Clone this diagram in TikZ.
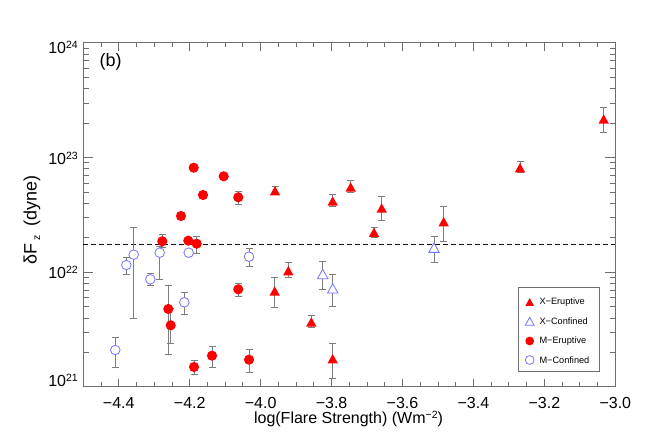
\documentclass[tikz,border=0pt]{standalone}
\usepackage{fontspec}
\setmainfont{Liberation Sans}
\definecolor{mblue}{RGB}{115,115,255}
\definecolor{axgray}{RGB}{110,110,110}
\definecolor{ebgray}{RGB}{125,125,125}
\newcommand\errb[3]{\draw[ebar] (#1,#2) -- (#1,#3) (#1-3.5,#2) -- (#1+3.5,#2) (#1-3.5,#3) -- (#1+3.5,#3);}
\newcommand\trimk[4]{\path[#4] (#1-#3,#2+0.9*#3) -- (#1+#3,#2+0.9*#3) -- (#1,#2-0.9*#3) -- cycle;}
\newcommand\sps[1]{\raisebox{5pt}{\fontsize{10.5}{11}\selectfont #1}}
\begin{document}
\begin{tikzpicture}[x=1pt,y=-1pt,
  frame/.style={draw=axgray,line width=1pt},
  tickln/.style={draw=axgray,line width=0.9pt},
  ebar/.style={draw=ebgray,line width=0.9pt},
  rfill/.style={fill=red},
  bopen/.style={draw=mblue,fill=white,line width=0.8pt},
  ticklab/.style={font=\fontsize{16}{19}\selectfont, inner sep=0pt},
  leglab/.style={font=\fontsize{9.2}{11}\selectfont, inner sep=0pt, anchor=west}]
\useasboundingbox[fill=white] (0,0) rectangle (664,443);
% x ticks
\foreach \i in {1,...,29} {
  \pgfmathsetmacro\xx{83.3+\i*17.7333}
  \draw[tickln] (\xx,387) -- (\xx,382.5) (\xx,43) -- (\xx,47.5);
}
\foreach \i/\lab in {2/−4.4,6/−4.2,10/−4.0,14/−3.8,18/−3.6,22/−3.4,26/−3.2,30/−3.0} {
  \pgfmathsetmacro\xx{83.3+\i*17.7333}
  \draw[tickln] (\xx,387) -- (\xx,379) (\xx,43) -- (\xx,51);
  \node[ticklab,anchor=base] at (\xx,408.5) {\lab};
}
% y ticks
\foreach \d in {0,1,2} \foreach \m in {2,...,9} {
  \pgfmathsetmacro\yy{387-(\d+log10(\m))*114.667}
  \draw[tickln] (83.3,\yy) -- (88.8,\yy) (615.3,\yy) -- (609.8,\yy);
}
\foreach \yy in {272.33,157.67} {
  \draw[tickln] (83.3,\yy) -- (93.3,\yy) (615.3,\yy) -- (605.3,\yy);
}
\node[ticklab,anchor=base east] at (78,387) {10\sps{21}};
\node[ticklab,anchor=base east] at (78,279) {10\sps{22}};
\node[ticklab,anchor=base east] at (78,164.5) {10\sps{23}};
\node[ticklab,anchor=base east] at (78,53.5) {10\sps{24}};
% frame
\draw[frame] (83.3,43) rectangle (615.3,387);
% titles
\node[ticklab,anchor=base] at (348.5,424) {log(Flare Strength) (Wm\sps{−2})};
\node[font=\fontsize{18}{21}\selectfont,inner sep=0pt,rotate=90] at (32,220) {δF\,\raisebox{-3.5pt}{\fontsize{10.5}{11}\selectfont z}\, (dyne)};
\node[font=\fontsize{18}{21}\selectfont,inner sep=0pt,anchor=base west] at (99.5,66.2) {(b)};
% threshold
\draw[black,line width=1.2pt,dash pattern=on 5pt off 3pt] (83.3,244.7) -- (615.3,244.7);
% error bars
\foreach \x/\t/\b in {238.3/191.3/204.3, 162.3/234.7/247.5, 196.7/236/253.3, 168.3/285.3/354.3, 170.7/308/343.7, 238.3/283.3/296, 194/360.3/374.3, 212/346.3/367.3, 249/349.3/372.7,
 133.7/227.7/318.3, 126.3/257.7/274, 159.7/246/279.3, 249/248/266.7, 150.3/273.7/285.3, 184.3/292.7/314.7, 115.3/337.7/367.3,
 275/186.7/193, 332.7/194.3/206.7, 350.7/180.7/192.3, 381.7/196.7/220.3, 374/227.7/237, 443.7/206/241.3, 288.3/262.7/277.3, 274.7/277/307, 311.3/315/327.7, 332.7/343.7/378.3, 520/161.7/172.3, 603.7/107.7/132.3,
 434/236/262.3, 322.7/261.3/289.3, 332.7/274.3/306}
  {\errb{\x}{\t}{\b}}
% M-Confined
\foreach \x/\y in {133.7/254.7, 126.3/265, 159.7/252.7, 188.7/252.7, 249/256.7, 150.3/279.3, 184.3/302.3, 115.3/350}
  {\draw[bopen] (\x,\y) circle (4.8);}
% M-Eruptive
\foreach \x/\y in {193.7/167.7, 223.7/176.3, 203/195, 238.3/197.3, 181/216, 162.3/241.3, 188.3/240.7, 196.7/243.7, 168.3/309, 170.7/325.3, 238.3/289.3, 194/367, 212/355.7, 249/359.7}
  {\fill[rfill] (\x,\y) circle (5.1);}
% X-Confined
\foreach \x/\y in {434/247.7, 322.7/274, 332.7/288.3}
  {\trimk{\x}{\y}{5.2}{bopen}}
% X-Eruptive
\foreach \x/\y in {275/190.7, 332.7/201, 350.7/187, 381.7/208, 374/232.3, 443.7/221.7, 288.3/270.7, 274.7/291, 311.3/322, 332.7/358.7, 520/167.7, 603.7/119}
  {\trimk{\x}{\y}{5.2}{rfill}}
% legend
\draw[draw=axgray,line width=0.9pt] (518,287.3) rectangle (599.3,371.7);
\trimk{529.7}{302}{4.4}{rfill}
\node[leglab] (l1) at (539.3,302) {X−Eruptive};
\trimk{529.7}{321.3}{4.4}{bopen}
\node[leglab] (l2) at (539.3,321.3) {X−Confined};
\fill[rfill] (529.7,341) circle (4.4);
\node[leglab] (l3) at (539.3,341) {M−Eruptive};
\draw[bopen] (529.7,360) circle (4.4);
\node[leglab] (l4) at (539.3,360) {M−Confined};
\end{tikzpicture}
\end{document}
